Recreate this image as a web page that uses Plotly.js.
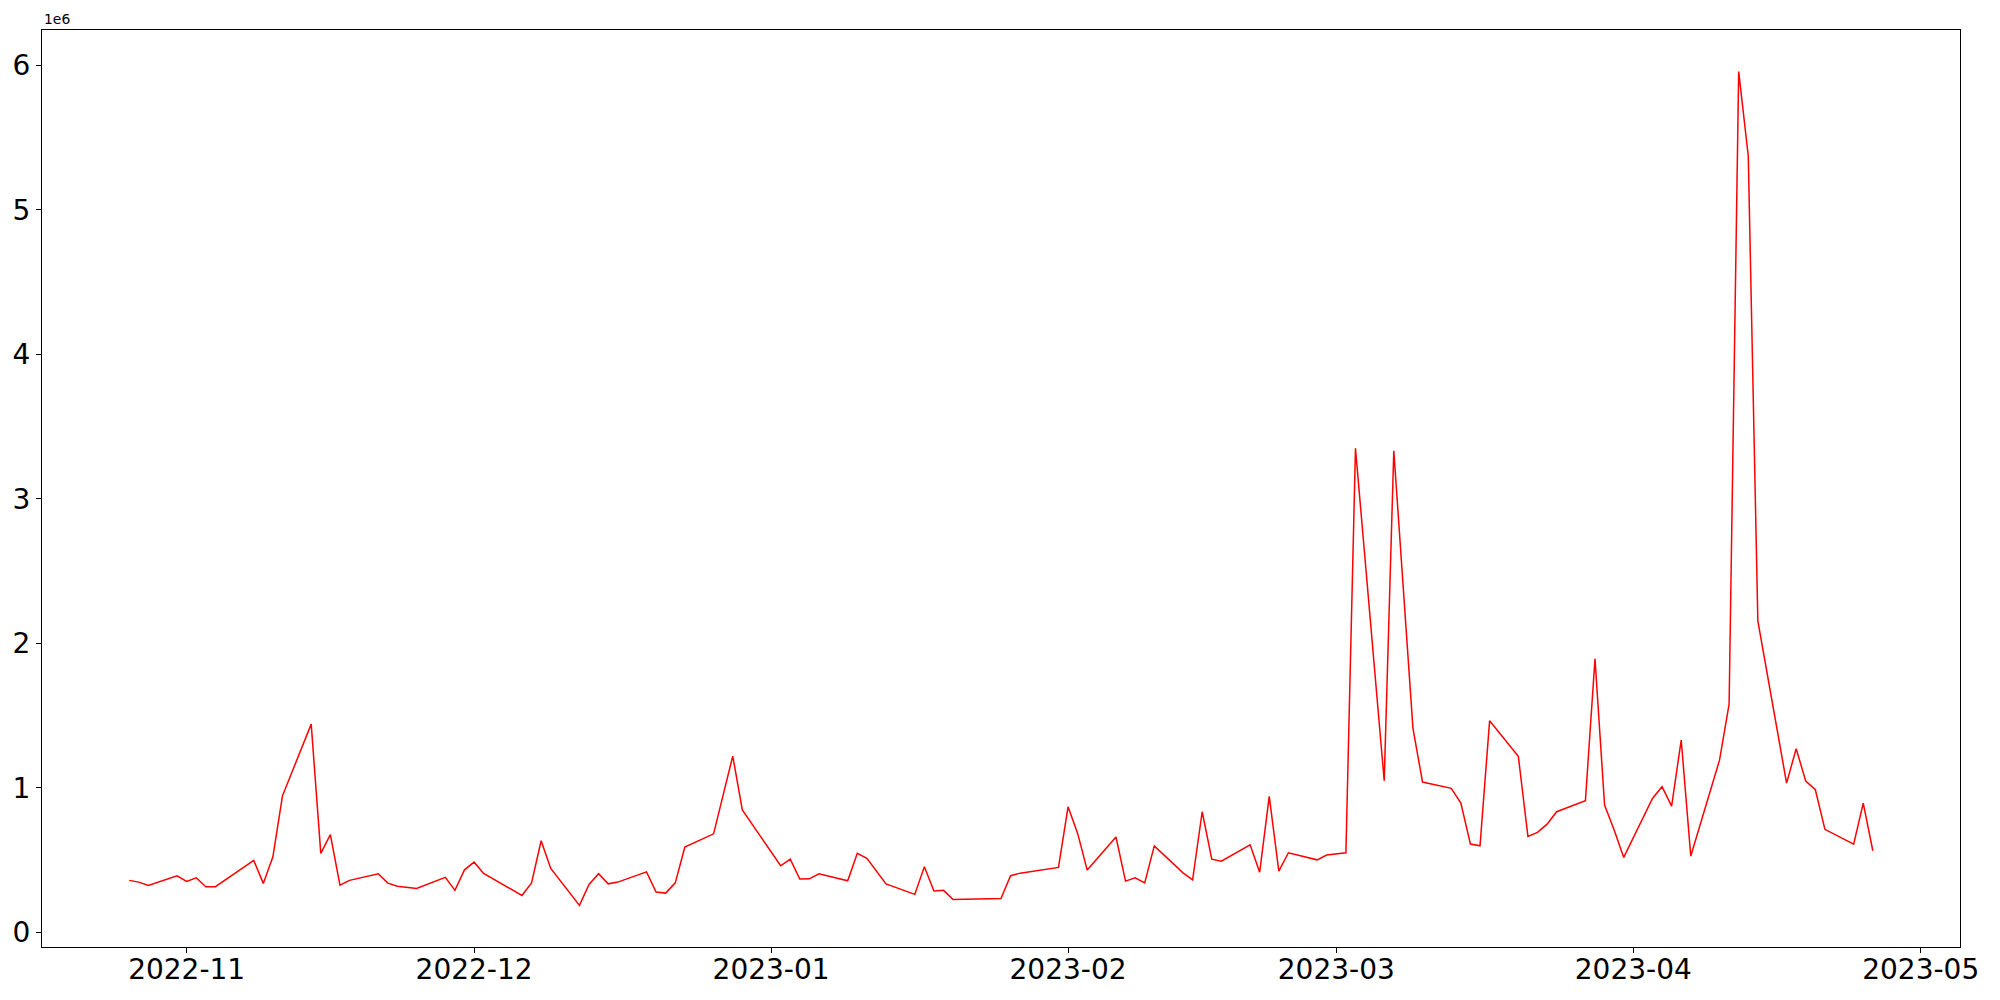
<!DOCTYPE html>
<html>
<head>
<meta charset="utf-8">
<script src="https://cdn.plot.ly/plotly-3.0.1.min.js"></script>
<style>html,body{margin:0;padding:0;background:#fff;}#chart{width:2000px;height:1000px;}</style>
</head>
<body>
<div id="chart"></div>
<script>
const dates = [
  '2022-10-26','2022-10-27','2022-10-28','2022-10-31','2022-11-01','2022-11-02','2022-11-03','2022-11-04',
  '2022-11-08','2022-11-09','2022-11-10','2022-11-11','2022-11-14','2022-11-15','2022-11-16','2022-11-17','2022-11-18',
  '2022-11-21','2022-11-22','2022-11-23','2022-11-25','2022-11-28','2022-11-29','2022-11-30','2022-12-01','2022-12-02',
  '2022-12-06','2022-12-07','2022-12-08','2022-12-09','2022-12-12','2022-12-13','2022-12-14','2022-12-15','2022-12-16',
  '2022-12-19','2022-12-20','2022-12-21','2022-12-22','2022-12-23','2022-12-26','2022-12-28','2022-12-29',
  '2023-01-02','2023-01-03','2023-01-04','2023-01-05','2023-01-06','2023-01-09','2023-01-10','2023-01-11','2023-01-13',
  '2023-01-16','2023-01-17','2023-01-18','2023-01-19','2023-01-20','2023-01-25','2023-01-26','2023-01-27','2023-01-31',
  '2023-02-01','2023-02-02','2023-02-03','2023-02-06','2023-02-07','2023-02-08','2023-02-09','2023-02-10',
  '2023-02-13','2023-02-14','2023-02-15','2023-02-16','2023-02-17','2023-02-20','2023-02-21','2023-02-22','2023-02-23','2023-02-24',
  '2023-02-27','2023-02-28','2023-03-02','2023-03-03','2023-03-06','2023-03-07','2023-03-09','2023-03-10',
  '2023-03-13','2023-03-14','2023-03-15','2023-03-16','2023-03-17','2023-03-20','2023-03-21','2023-03-22','2023-03-23','2023-03-24',
  '2023-03-27','2023-03-28','2023-03-29','2023-03-30','2023-03-31','2023-04-03','2023-04-04','2023-04-05','2023-04-06','2023-04-07',
  '2023-04-10','2023-04-11','2023-04-12','2023-04-13','2023-04-14','2023-04-17','2023-04-18','2023-04-19','2023-04-20','2023-04-21',
  '2023-04-24','2023-04-25','2023-04-26'
];
const values = [
  360000,348000,325000,392000,353000,378000,316000,316000,
  498000,339000,523000,945000,1441000,547000,676000,327000,360000,
  406000,341000,320000,304000,381000,291000,433000,486000,408000,
  256000,343000,634000,443000,187000,332000,406000,336000,348000,
  419000,279000,272000,343000,590000,682000,1220000,848000,
  461000,507000,369000,371000,406000,357000,547000,512000,336000,
  263000,454000,286000,291000,228000,235000,392000,410000,450000,
  869000,685000,431000,660000,355000,378000,343000,599000,
  412000,364000,835000,507000,493000,606000,417000,941000,424000,551000,
  502000,535000,551000,3349000,1049000,3333000,1412000,1040000,
  997000,895000,611000,599000,1464000,1218000,664000,692000,749000,835000,
  911000,1893000,881000,708000,519000,927000,1008000,874000,1331000,528000,
  1192000,1580000,5956000,5372000,2156000,1033000,1271000,1047000,987000,713000,
  611000,895000,565000
];
const xTickVals = ['2022-11-01','2022-12-01','2023-01-01','2023-02-01','2023-03-01','2023-04-01','2023-05-01'];
const xTickText = ['2022-11','2022-12','2023-01','2023-02','2023-03','2023-04','2023-05'];
const yTickVals = [0,1000000,2000000,3000000,4000000,5000000,6000000];
const yTickText = ['0','1','2','3','4','5','6'];
const offsetLabel = '1e6';

const font = 'DejaVu Sans, sans-serif';
const trace = {
  x: dates, y: values, type: 'scatter', mode: 'lines',
  line: {color: '#ff0000', width: 1.5}, hoverinfo: 'x+y'
};
const layout = {
  width: 2000, height: 1000,
  margin: {l: 42, r: 40, t: 30, b: 53},
  paper_bgcolor: '#ffffff', plot_bgcolor: '#ffffff',
  showlegend: false,
  font: {family: font, color: '#000'},
  xaxis: {
    type: 'date',
    range: ['2022-10-16 21:36', '2023-05-05 02:24'],
    tickvals: xTickVals, ticktext: xTickText,
    ticks: 'outside', ticklen: 5, tickwidth: 1.1, tickcolor: '#000',
    ticklabelstandoff: -8,
    tickfont: {family: font, size: 28, color: '#000'},
    showgrid: false, zeroline: false,
    showline: true, linecolor: '#000', linewidth: 1.1, mirror: true
  },
  yaxis: {
    range: [-101000, 6244000],
    tickvals: yTickVals, ticktext: yTickText,
    ticks: 'outside', ticklen: 5, tickwidth: 1.1, tickcolor: '#000',
    tickfont: {family: font, size: 28, color: '#000'},
    showgrid: false, zeroline: false,
    showline: true, linecolor: '#000', linewidth: 1.1, mirror: true
  },
  annotations: [{
    text: offsetLabel, xref: 'paper', yref: 'paper', x: 0, y: 1,
    xanchor: 'left', yanchor: 'bottom', showarrow: false, yshift: 1,
    font: {family: font, size: 13.9, color: '#000'}
  }]
};
Plotly.newPlot('chart', [trace], layout, {displayModeBar: false, staticPlot: true});
</script>
</body>
</html>
